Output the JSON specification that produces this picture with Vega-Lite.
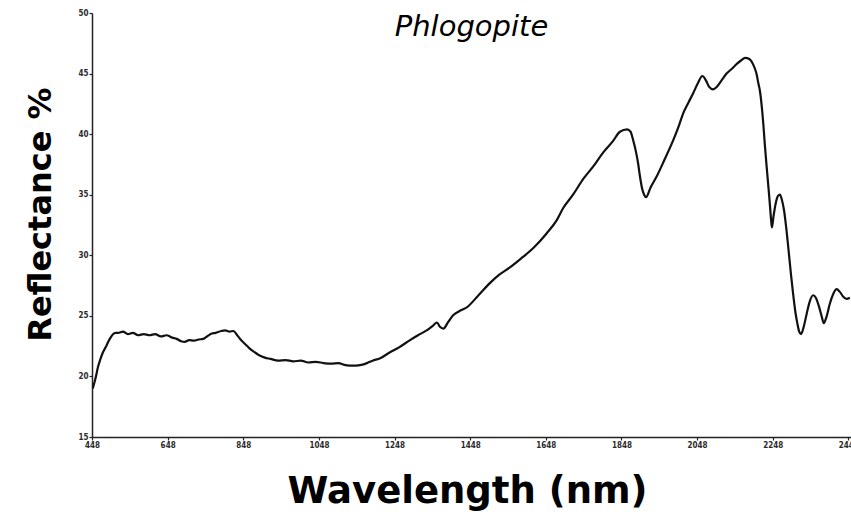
{
  "$schema": "https://vega.github.io/schema/vega-lite/v6.json",
  "width": 759,
  "height": 424,
  "autosize": {"type": "none"},
  "padding": {"left": 92, "top": 13, "right": 0, "bottom": 75},
  "background": "white",
  "title": {
    "text": "Phlogopite",
    "font": "DejaVu Sans",
    "fontSize": 29,
    "fontStyle": "italic",
    "fontWeight": "normal",
    "color": "#000000",
    "anchor": "middle",
    "frame": "group",
    "baseline": "alphabetic",
    "offset": -56
  },
  "config": {
    "view": {"stroke": null},
    "axis": {
      "grid": false,
      "domainColor": "#222222",
      "domainWidth": 1.5,
      "tickColor": "#222222",
      "tickSize": 3,
      "tickWidth": 1.2,
      "labelFont": "DejaVu Sans Condensed",
      "labelFontSize": 8,
      "labelFontWeight": "bold",
      "labelColor": "#2a2a2a",
      "labelPadding": 1,
      "labelOverlap": false,
      "labelFlush": false,
      "titleFont": "DejaVu Sans",
      "titleFontWeight": "bold",
      "titleColor": "#000000"
    }
  },
  "data": {
    "values": [
      {"wavelength": 450, "reflectance": 19.0},
      {"wavelength": 457, "reflectance": 19.8},
      {"wavelength": 464, "reflectance": 20.8},
      {"wavelength": 470, "reflectance": 21.4},
      {"wavelength": 477, "reflectance": 22.0},
      {"wavelength": 484, "reflectance": 22.4},
      {"wavelength": 490, "reflectance": 22.8},
      {"wavelength": 497, "reflectance": 23.2},
      {"wavelength": 504, "reflectance": 23.5},
      {"wavelength": 510, "reflectance": 23.6},
      {"wavelength": 517, "reflectance": 23.6},
      {"wavelength": 530, "reflectance": 23.7},
      {"wavelength": 543, "reflectance": 23.5},
      {"wavelength": 556, "reflectance": 23.6},
      {"wavelength": 570, "reflectance": 23.4},
      {"wavelength": 585, "reflectance": 23.5},
      {"wavelength": 600, "reflectance": 23.4},
      {"wavelength": 615, "reflectance": 23.5},
      {"wavelength": 630, "reflectance": 23.3},
      {"wavelength": 645, "reflectance": 23.4},
      {"wavelength": 660, "reflectance": 23.2},
      {"wavelength": 672, "reflectance": 23.1},
      {"wavelength": 684, "reflectance": 22.9},
      {"wavelength": 693, "reflectance": 22.85},
      {"wavelength": 705, "reflectance": 23.0},
      {"wavelength": 718, "reflectance": 22.95},
      {"wavelength": 730, "reflectance": 23.05},
      {"wavelength": 742, "reflectance": 23.1},
      {"wavelength": 752, "reflectance": 23.3},
      {"wavelength": 762, "reflectance": 23.5},
      {"wavelength": 775, "reflectance": 23.6},
      {"wavelength": 790, "reflectance": 23.75},
      {"wavelength": 800, "reflectance": 23.8},
      {"wavelength": 812, "reflectance": 23.7},
      {"wavelength": 822, "reflectance": 23.75},
      {"wavelength": 832, "reflectance": 23.4},
      {"wavelength": 842, "reflectance": 23.0},
      {"wavelength": 852, "reflectance": 22.7},
      {"wavelength": 865, "reflectance": 22.3},
      {"wavelength": 878, "reflectance": 22.0},
      {"wavelength": 890, "reflectance": 21.75},
      {"wavelength": 905, "reflectance": 21.55},
      {"wavelength": 920, "reflectance": 21.45},
      {"wavelength": 940, "reflectance": 21.3},
      {"wavelength": 960, "reflectance": 21.35},
      {"wavelength": 980, "reflectance": 21.25},
      {"wavelength": 1000, "reflectance": 21.3},
      {"wavelength": 1020, "reflectance": 21.15},
      {"wavelength": 1040, "reflectance": 21.2},
      {"wavelength": 1060, "reflectance": 21.1},
      {"wavelength": 1080, "reflectance": 21.05},
      {"wavelength": 1100, "reflectance": 21.1},
      {"wavelength": 1115, "reflectance": 20.95},
      {"wavelength": 1130, "reflectance": 20.9},
      {"wavelength": 1145, "reflectance": 20.9},
      {"wavelength": 1160, "reflectance": 20.95},
      {"wavelength": 1175, "reflectance": 21.1},
      {"wavelength": 1190, "reflectance": 21.3},
      {"wavelength": 1210, "reflectance": 21.5},
      {"wavelength": 1236, "reflectance": 22.0},
      {"wavelength": 1260, "reflectance": 22.4},
      {"wavelength": 1289, "reflectance": 23.0},
      {"wavelength": 1310, "reflectance": 23.4},
      {"wavelength": 1333, "reflectance": 23.8},
      {"wavelength": 1350, "reflectance": 24.2},
      {"wavelength": 1360, "reflectance": 24.45},
      {"wavelength": 1368, "reflectance": 24.1},
      {"wavelength": 1377, "reflectance": 23.95},
      {"wavelength": 1390, "reflectance": 24.5},
      {"wavelength": 1403, "reflectance": 25.05},
      {"wavelength": 1420, "reflectance": 25.4},
      {"wavelength": 1439, "reflectance": 25.7},
      {"wavelength": 1470, "reflectance": 26.7},
      {"wavelength": 1500, "reflectance": 27.7},
      {"wavelength": 1525, "reflectance": 28.4},
      {"wavelength": 1553, "reflectance": 29.0},
      {"wavelength": 1585, "reflectance": 29.8},
      {"wavelength": 1615, "reflectance": 30.6},
      {"wavelength": 1650, "reflectance": 31.8},
      {"wavelength": 1677, "reflectance": 32.9},
      {"wavelength": 1694, "reflectance": 33.9},
      {"wavelength": 1720, "reflectance": 35.0},
      {"wavelength": 1747, "reflectance": 36.3},
      {"wavelength": 1775, "reflectance": 37.4},
      {"wavelength": 1800, "reflectance": 38.5},
      {"wavelength": 1825, "reflectance": 39.4},
      {"wavelength": 1844, "reflectance": 40.2},
      {"wavelength": 1863, "reflectance": 40.4},
      {"wavelength": 1872, "reflectance": 40.2},
      {"wavelength": 1879, "reflectance": 39.5},
      {"wavelength": 1886, "reflectance": 38.6},
      {"wavelength": 1892, "reflectance": 37.6},
      {"wavelength": 1897, "reflectance": 36.5},
      {"wavelength": 1902, "reflectance": 35.6},
      {"wavelength": 1908, "reflectance": 35.0},
      {"wavelength": 1913, "reflectance": 34.8},
      {"wavelength": 1925, "reflectance": 35.6},
      {"wavelength": 1941, "reflectance": 36.5},
      {"wavelength": 1962, "reflectance": 37.9},
      {"wavelength": 1985, "reflectance": 39.5},
      {"wavelength": 2000, "reflectance": 40.7},
      {"wavelength": 2011, "reflectance": 41.7},
      {"wavelength": 2025, "reflectance": 42.6},
      {"wavelength": 2038, "reflectance": 43.4},
      {"wavelength": 2050, "reflectance": 44.2},
      {"wavelength": 2062, "reflectance": 44.8},
      {"wavelength": 2072, "reflectance": 44.4},
      {"wavelength": 2080, "reflectance": 43.9},
      {"wavelength": 2090, "reflectance": 43.7},
      {"wavelength": 2100, "reflectance": 43.9},
      {"wavelength": 2112, "reflectance": 44.4},
      {"wavelength": 2126, "reflectance": 45.0},
      {"wavelength": 2140, "reflectance": 45.4},
      {"wavelength": 2153, "reflectance": 45.8},
      {"wavelength": 2165, "reflectance": 46.1},
      {"wavelength": 2175, "reflectance": 46.3},
      {"wavelength": 2186, "reflectance": 46.2},
      {"wavelength": 2197, "reflectance": 45.7},
      {"wavelength": 2205, "reflectance": 45.0},
      {"wavelength": 2210, "reflectance": 44.2},
      {"wavelength": 2214, "reflectance": 43.6},
      {"wavelength": 2219, "reflectance": 42.3},
      {"wavelength": 2223, "reflectance": 40.9},
      {"wavelength": 2227, "reflectance": 39.2},
      {"wavelength": 2232, "reflectance": 37.3},
      {"wavelength": 2237, "reflectance": 35.5},
      {"wavelength": 2241, "reflectance": 34.0},
      {"wavelength": 2244, "reflectance": 32.8},
      {"wavelength": 2246, "reflectance": 32.3},
      {"wavelength": 2250, "reflectance": 33.2},
      {"wavelength": 2256, "reflectance": 34.3},
      {"wavelength": 2262, "reflectance": 34.9},
      {"wavelength": 2267, "reflectance": 35.0},
      {"wavelength": 2272, "reflectance": 34.6},
      {"wavelength": 2278, "reflectance": 33.7},
      {"wavelength": 2284, "reflectance": 32.2},
      {"wavelength": 2289, "reflectance": 30.7},
      {"wavelength": 2296, "reflectance": 28.5},
      {"wavelength": 2302, "reflectance": 26.8},
      {"wavelength": 2308, "reflectance": 25.3},
      {"wavelength": 2313, "reflectance": 24.4},
      {"wavelength": 2318, "reflectance": 23.7},
      {"wavelength": 2323, "reflectance": 23.5},
      {"wavelength": 2330, "reflectance": 24.1},
      {"wavelength": 2338, "reflectance": 25.2},
      {"wavelength": 2346, "reflectance": 26.2},
      {"wavelength": 2355, "reflectance": 26.7},
      {"wavelength": 2362, "reflectance": 26.5},
      {"wavelength": 2371, "reflectance": 25.7},
      {"wavelength": 2378, "reflectance": 24.9},
      {"wavelength": 2383, "reflectance": 24.4},
      {"wavelength": 2390, "reflectance": 24.9},
      {"wavelength": 2399, "reflectance": 26.0},
      {"wavelength": 2408, "reflectance": 26.8},
      {"wavelength": 2417, "reflectance": 27.2},
      {"wavelength": 2425, "reflectance": 27.0},
      {"wavelength": 2434, "reflectance": 26.6},
      {"wavelength": 2443, "reflectance": 26.4},
      {"wavelength": 2452, "reflectance": 26.5}
    ]
  },
  "mark": {
    "type": "line",
    "interpolate": "monotone",
    "color": "#111111",
    "strokeWidth": 2.2,
    "clip": true
  },
  "encoding": {
    "x": {
      "field": "wavelength",
      "type": "quantitative",
      "scale": {"domain": [448, 2455], "nice": false, "zero": false},
      "axis": {
        "title": "Wavelength (nm)",
        "values": [448, 648, 848, 1048, 1248, 1448, 1648, 1848, 2048, 2248, 2448],
        "format": "d",
        "titleFontSize": 37,
        "titleX": 375,
        "titleY": 65,
        "titleBaseline": "alphabetic",
        "titleAlign": "center"
      }
    },
    "y": {
      "field": "reflectance",
      "type": "quantitative",
      "scale": {"domain": [15, 50], "nice": false, "zero": false},
      "axis": {
        "title": "Reflectance %",
        "values": [15, 20, 25, 30, 35, 40, 45, 50],
        "titleFontSize": 32,
        "titleX": -42,
        "titleY": 201,
        "titleAngle": -90,
        "titleBaseline": "alphabetic",
        "titleAlign": "center"
      }
    }
  }
}
